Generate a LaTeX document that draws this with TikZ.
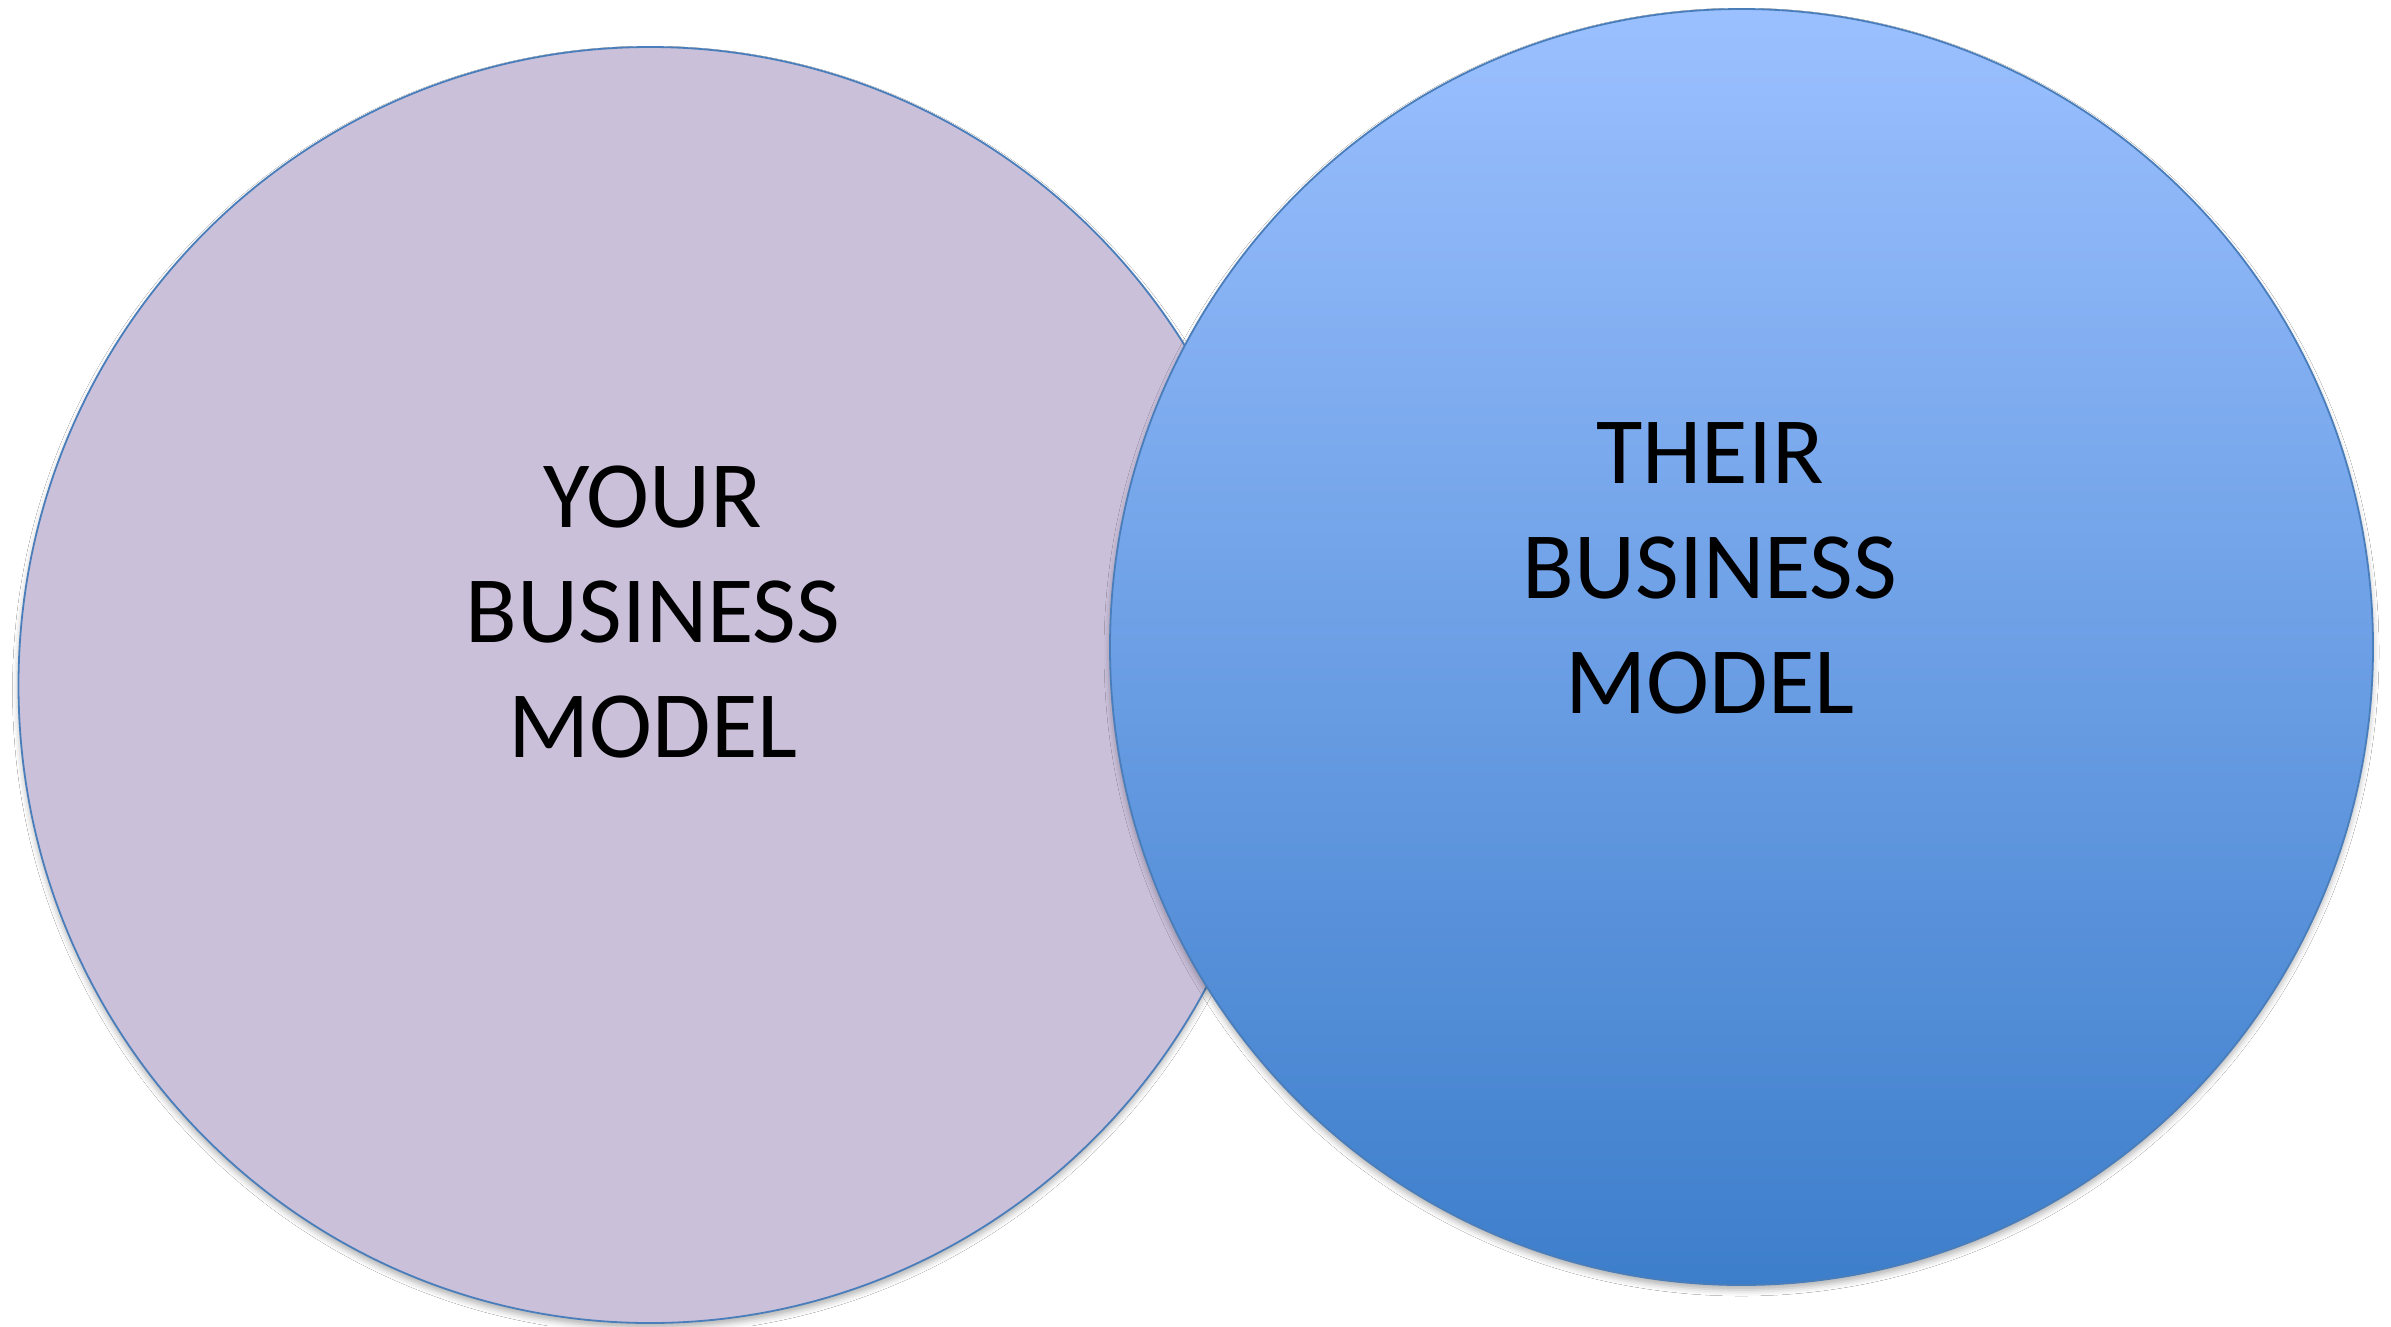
\documentclass[tikz,border=0pt]{standalone}
\usepackage{fontspec}
\setmainfont{Carlito}
\usetikzlibrary{shapes.geometric,shadows.blur}

\definecolor{rimblue}{HTML}{4A7EBB}
\definecolor{lavender}{HTML}{CAC0DA}
\definecolor{skytop}{HTML}{9BC0FF}
\definecolor{skybottom}{HTML}{3D7ECB}

\tikzset{
  bubble/.style={ellipse, draw=rimblue, line width=1.8pt, inner sep=0pt,
    minimum width=1263pt, minimum height=1276pt,
    blur shadow={shadow xshift=0pt, shadow yshift=-5pt,
      shadow blur radius=6pt, shadow opacity=30}},
  % anchor=base sits on the baseline of the last line
  caption/.style={align=center, anchor=base, text=black,
    font=\fontsize{95}{115}\selectfont}
}

\begin{document}
\begin{tikzpicture}[x=1pt, y=-1pt]
  \useasboundingbox (0,0) rectangle (2391,1326);
  \fill[white] (0,0) rectangle (2391,1326);

  % the two overlapping models
  \node[bubble, fill=lavender] (yours) at (650,685) {};
  \node[bubble, top color=skytop, bottom color=skybottom] (theirs) at (1741.5,647) {};

  % labels
  \node[caption] (yourlabel) at (653,757) {YOUR\\BUSINESS\\MODEL};
  \node[caption] (theirlabel) at (1710,713) {THEIR\\BUSINESS\\MODEL};
\end{tikzpicture}
\end{document}
